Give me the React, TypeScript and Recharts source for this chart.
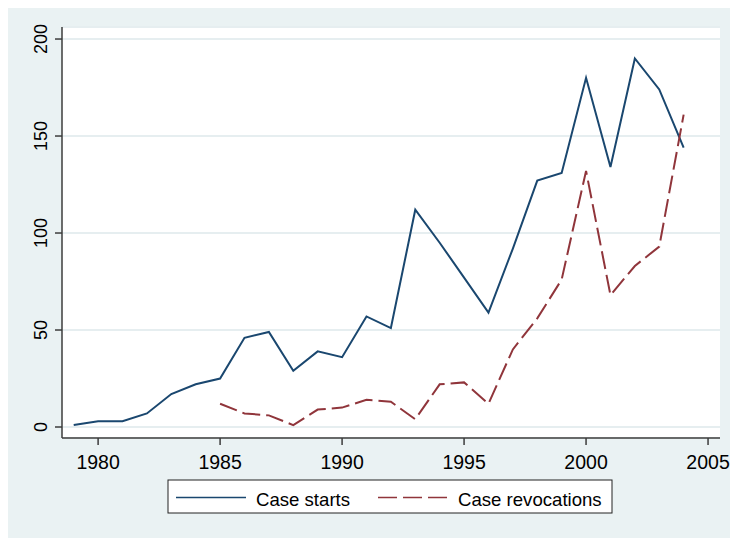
import { LineChart, Line, XAxis, YAxis, CartesianGrid } from 'recharts'

const YEARS = [
  1979, 1980, 1981, 1982, 1983, 1984, 1985, 1986, 1987, 1988, 1989, 1990, 1991,
  1992, 1993, 1994, 1995, 1996, 1997, 1998, 1999, 2000, 2001, 2002, 2003, 2004,
]
const CASE_STARTS = [
  1, 3, 3, 7, 17, 22, 25, 46, 49, 29, 39, 36, 57, 51, 112, 95, 77, 59, 92, 127,
  131, 180, 134, 190, 174, 144,
]
const CASE_REVOCATIONS = [
  null, null, null, null, null, null, 12, 7, 6, 1, 9, 10, 14, 13, 4, 22, 23, 12,
  40, 56, 76, 132, 68, 83, 93, 161,
]
const X_TICKS = [1980, 1985, 1990, 1995, 2000, 2005]
const Y_TICKS = [0, 50, 100, 150, 200]

const BG = '#EAF2F3'
const NAVY = '#1A476F'
const MAROON = '#90353B'
const AXIS = '#3c3c3c'
const FONT = '"Liberation Sans", Arial, sans-serif'

const data = YEARS.map((year, i) => ({
  year,
  starts: CASE_STARTS[i],
  revocations: CASE_REVOCATIONS[i],
}))

// eslint-disable-next-line @typescript-eslint/no-explicit-any
function XTick(props: any) {
  const { x, y, payload } = props
  return (
    <text x={x} y={y + 22} textAnchor="middle" fontSize={19.5} fontFamily={FONT} fill="#000">
      {payload.value}
    </text>
  )
}

// eslint-disable-next-line @typescript-eslint/no-explicit-any
function YTick(props: any) {
  const { x, y, payload } = props
  const cx = x - 6
  return (
    <text
      x={cx}
      y={y}
      transform={`rotate(-90 ${cx} ${y})`}
      textAnchor="middle"
      fontSize={18}
      fontFamily={FONT}
      fill="#000"
    >
      {payload.value}
    </text>
  )
}

function ChartLegend() {
  return (
    <svg
      width={446}
      height={36}
      style={{ position: 'absolute', left: 159, top: 471 }}
    >
      <rect x={1} y={1} width={444} height={33} fill="#fff" stroke="#222" strokeWidth={1} />
      <line x1={9} y1={18.5} x2={79} y2={18.5} stroke={NAVY} strokeWidth={1.6} />
      <text x={89} y={34 - 7.5} fontSize={18.6} fontFamily={FONT} fill="#000">
        Case starts
      </text>
      <line
        x1={211}
        y1={18.5}
        x2={281}
        y2={18.5}
        stroke={MAROON}
        strokeWidth={1.6}
        strokeDasharray="19 6"
      />
      <text x={291} y={34 - 7.5} fontSize={18.6} fontFamily={FONT} fill="#000">
        Case revocations
      </text>
    </svg>
  )
}

export default function App() {
  return (
    <>
      <style>{'body{margin:0;overflow:hidden}'}</style>
      <div
        style={{
          position: 'absolute',
          left: 8,
          top: 8,
          width: 722,
          height: 530,
          background: BG,
        }}
      >
        <LineChart
          width={722}
          height={530}
          data={data}
          margin={{ top: 19, right: 10, bottom: 60, left: 0 }}
          style={{ overflow: 'visible' }}
        >
          <CartesianGrid vertical={false} fill="#fff" stroke="#E6EEF0" strokeWidth={2} />
          <XAxis
            dataKey="year"
            type="number"
            domain={[1978.52, 2005.49]}
            ticks={X_TICKS}
            allowDataOverflow
            height={40}
            tickSize={7}
            tick={<XTick />}
            axisLine={{ stroke: AXIS, strokeWidth: 1.5 }}
            tickLine={{ stroke: AXIS, strokeWidth: 1.5 }}
          />
          <YAxis
            type="number"
            domain={[-5.67, 206.2]}
            ticks={Y_TICKS}
            allowDataOverflow
            width={54}
            tickSize={7}
            tick={<YTick />}
            axisLine={{ stroke: AXIS, strokeWidth: 1.5 }}
            tickLine={{ stroke: AXIS, strokeWidth: 1.5 }}
          />
          <Line
            dataKey="starts"
            stroke={NAVY}
            strokeWidth={2}
            dot={false}
            isAnimationActive={false}
          />
          <Line
            dataKey="revocations"
            stroke={MAROON}
            strokeWidth={2}
            strokeDasharray="18 6"
            dot={false}
            connectNulls={false}
            isAnimationActive={false}
          />
        </LineChart>
        <ChartLegend />
      </div>
    </>
  )
}
